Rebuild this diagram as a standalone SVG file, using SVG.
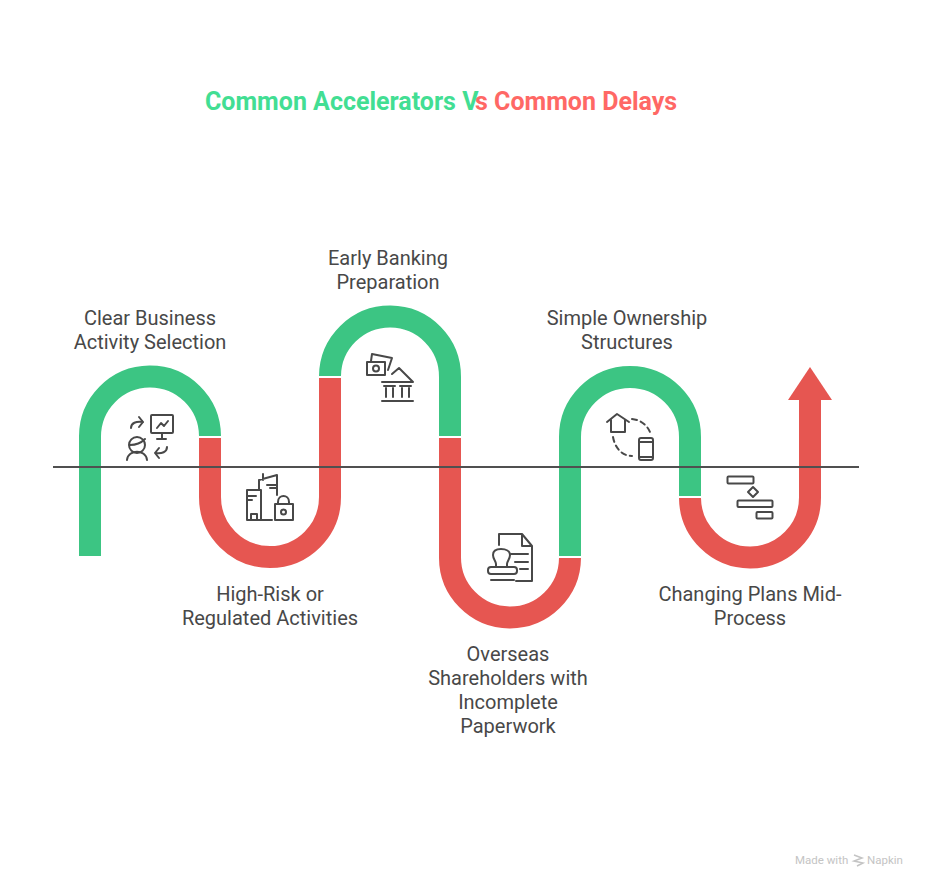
<svg xmlns="http://www.w3.org/2000/svg" width="928" height="888" viewBox="0 0 928 888">
<style>
.g{fill:none;stroke:#3cc583;stroke-width:22}
.r{fill:none;stroke:#e65651;stroke-width:22}
.l{font:20px Roboto,"Liberation Sans",sans-serif;fill:#484848;text-anchor:middle}
.t{font:bold 25px Roboto,"Liberation Sans",sans-serif}
.f{font:11.500px Roboto,"Liberation Sans",sans-serif;fill:#c4c4c4}
.i{fill:none;stroke:#484848;stroke-width:2;stroke-linecap:round;stroke-linejoin:round}
</style>
<rect width="928" height="888" fill="#fff"/>
<g id="title"><text class="t" x="205" y="110" fill="#42de93">Common Accelerators V</text><text class="t" x="475" y="110" fill="#ff6865">s Common Delays</text></g>
<g id="connectors">
<path class="g" d="M90 556V437A60 60 0 0 1 210 436"/>
<path class="r" d="M210 438V497A60 60 0 0 0 330 497V378"/>
<path class="g" d="M330 376A60 60 0 0 1 450 377V436"/>
<path class="r" d="M450 438V557A60 60 0 0 0 570 558"/>
<path class="g" d="M570 556V437A60 60 0 0 1 690 437V496"/>
<path class="r" d="M690 498A60 60 0 0 0 810 497V400"/>
<path d="M788 400L810 367L832 400Z" fill="#e65651"/>
<path d="M53 467H859" stroke="#505050" stroke-width="2" fill="none"/>
</g>
<g id="node1"><text class="l" x="150" y="325">Clear Business</text><text class="l" x="150" y="349">Activity Selection</text>
<g class="i"><rect x="151" y="415" width="22" height="18" rx="1"/><path d="M157 428L161 423L164 426L168 421M162 433V439M157 439H166"/><path d="M131 428C131 423 136 421 143 422M139 417L143 422L139 427"/><path d="M167 447C167 452 162 454 155 453M159 448L155 453L159 458"/><circle cx="137" cy="445" r="8"/><path d="M130 445C135 445 141 443 145 439M127 460C128 449 146 449 147 460"/></g></g>
<g id="node2"><text class="l" x="270" y="601">High-Risk or</text><text class="l" x="270" y="625">Regulated Activities</text>
<g class="i"><path d="M247 520V490H261V520M247 496H256M247 500H252M251 520V514H257V520M247 520H272"/><path d="M259 490V480L277 475V495M263 480V474M267 485H276M270 488H276"/><rect x="275" y="504" width="18" height="16"/><path d="M278 504V502C278 494 289 494 289 502V504"/><circle cx="283.500" cy="512" r="2.500"/></g></g>
<g id="node3"><text class="l" x="388" y="265">Early Banking</text><text class="l" x="388" y="289">Preparation</text>
<g class="i"><rect x="367" y="362" width="18" height="13"/><circle cx="376" cy="368.500" r="3"/><path d="M371 361L372 354L392 358L388 370"/><path d="M382 382H413L399 368L392 374M384 386H395M400 386H411M386 388V397M393 388V397M402 388V397M409 388V397M382 401H413"/></g></g>
<g id="node4"><text class="l" x="508" y="661">Overseas</text><text class="l" x="508" y="685">Shareholders with</text><text class="l" x="508" y="709">Incomplete</text><text class="l" x="508" y="733">Paperwork</text>
<g class="i"><path d="M499 545V534H522L532 546V581H516M522 534V546H532M511 554H528M515 562H528M520 569H528"/><path d="M496 567H507V564C507 561 510 559 510 555C510 551 506 549 501 549C496 549 493 551 493 555C493 559 496 561 496 564Z"/><rect x="488" y="567" width="29" height="7" rx="3"/><path d="M491 580H514"/></g></g>
<g id="node5"><text class="l" x="627" y="325">Simple Ownership</text><text class="l" x="627" y="349">Structures</text>
<g class="i"><path d="M607 422L617 414L629 422M611 420V432H625V420"/><path d="M632 419C642 420 649 427 651 435M613 437C615 448 622 456 632 456" stroke-dasharray="5 4"/><rect x="639" y="438" width="14" height="22" rx="2"/><path d="M639 442H653M639 457H653"/></g></g>
<g id="node6"><text class="l" x="750" y="601">Changing Plans Mid-</text><text class="l" x="750" y="625">Process</text>
<g class="i"><rect x="727.500" y="476.500" width="26" height="7" rx="1"/><path d="M753 487L758 492L753 497L748 492Z"/><rect x="737.500" y="500.500" width="35" height="6.500" rx="1"/><rect x="756.500" y="512" width="16" height="6.500" rx="1"/></g></g>
<g id="footer"><text class="f" x="795" y="864">Made with</text><path d="M854 855L862 858L854 861L863 863L857 866" stroke="#c4c4c4" stroke-width="1.500" fill="none"/><text class="f" x="867" y="864">Napkin</text></g>
</svg>
